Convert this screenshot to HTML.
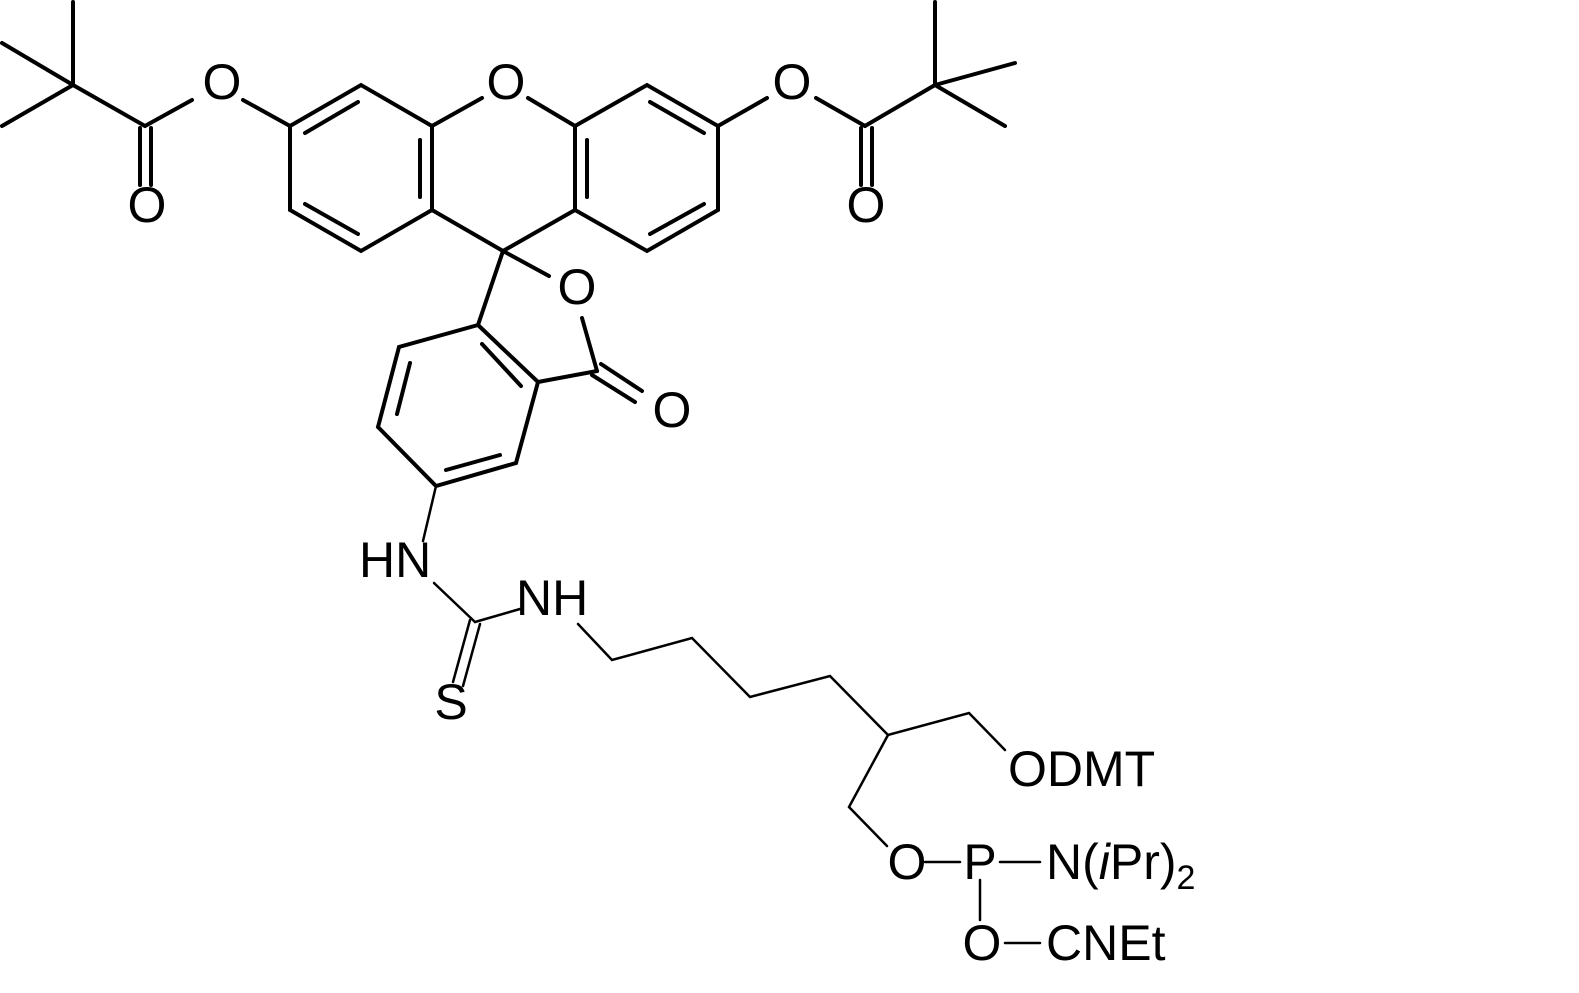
<!DOCTYPE html>
<html><head><meta charset="utf-8"><style>
html,body{margin:0;padding:0;background:#fff;}
svg{display:block;}
text{font-family:"Liberation Sans",Arial,sans-serif;font-size:50px;fill:#000;}
</style></head><body>
<svg width="1579" height="993" viewBox="0 0 1579 993" xmlns="http://www.w3.org/2000/svg">
<g stroke="#000" stroke-width="4" fill="none" stroke-linecap="round">
<line x1="73" y1="2" x2="73" y2="85"/>
<line x1="2" y1="43" x2="73" y2="85"/>
<line x1="2" y1="126" x2="73" y2="85"/>
<line x1="73" y1="85" x2="145" y2="126"/>
<line x1="145" y1="126" x2="192" y2="100"/>
<line x1="140" y1="128" x2="140" y2="185"/>
<line x1="151" y1="128" x2="151" y2="185"/>
<line x1="243" y1="100" x2="290" y2="126"/>
<polyline points="290,126 361,85 432,126 432,210 361,251 290,210 290,126"/>
<line x1="305" y1="133" x2="358" y2="102"/>
<line x1="420" y1="140" x2="420" y2="197"/>
<line x1="305" y1="204" x2="358" y2="234"/>
<line x1="432" y1="126" x2="482" y2="98"/>
<line x1="528" y1="98" x2="575" y2="126"/>
<polyline points="575,126 647,85 718,126 718,210 647,251 575,210 575,126"/>
<line x1="587" y1="140" x2="587" y2="197"/>
<line x1="650" y1="102" x2="704" y2="133"/>
<line x1="650" y1="234" x2="704" y2="204"/>
<line x1="718" y1="126" x2="767" y2="98"/>
<line x1="816" y1="98" x2="865" y2="126"/>
<line x1="865" y1="126" x2="935" y2="85"/>
<line x1="861" y1="128" x2="861" y2="185"/>
<line x1="872" y1="128" x2="872" y2="185"/>
<line x1="935" y1="85" x2="935" y2="2"/>
<line x1="935" y1="85" x2="1015" y2="63"/>
<line x1="935" y1="85" x2="1005" y2="126"/>
<line x1="432" y1="210" x2="503" y2="251"/>
<line x1="575" y1="210" x2="503" y2="251"/>
<line x1="503" y1="251" x2="549" y2="276"/>
<line x1="503" y1="251" x2="478" y2="325"/>
<polyline points="478,325 399,347 378,427 436,486 516,463 538,382 478,325"/>
<line x1="482" y1="344" x2="521" y2="386"/>
<line x1="410" y1="363" x2="397" y2="414"/>
<line x1="446" y1="470" x2="500" y2="455"/>
<line x1="538" y1="382" x2="597" y2="371"/>
<line x1="597" y1="371" x2="582" y2="318"/>
<line x1="592" y1="375" x2="635" y2="402"/>
<line x1="601" y1="364" x2="642" y2="391"/>
</g>
<g stroke="#000" stroke-width="2.5" fill="none" stroke-linecap="round">
<line x1="436" y1="486" x2="423" y2="541"/>
<line x1="434" y1="583" x2="475" y2="622"/>
<line x1="475" y1="622" x2="520" y2="609"/>
<line x1="470" y1="620" x2="453" y2="682"/>
<line x1="480" y1="624" x2="463" y2="686"/>
<polyline points="578,624 612,660 692,638 750,697 830,676 888,735 969,713 1005,750"/>
<polyline points="888,735 849,807 887,846"/>
<line x1="925" y1="862" x2="960" y2="862"/>
<line x1="1000" y1="862" x2="1040" y2="862"/>
<line x1="980" y1="880" x2="980" y2="920"/>
<line x1="1005" y1="943" x2="1040" y2="943"/>
</g>
<text x="147" y="222" text-anchor="middle">O</text>
<text x="222" y="99" text-anchor="middle">O</text>
<text x="506" y="99" text-anchor="middle">O</text>
<text x="792" y="99" text-anchor="middle">O</text>
<text x="866" y="222" text-anchor="middle">O</text>
<text x="577" y="304" text-anchor="middle">O</text>
<text x="672" y="427" text-anchor="middle">O</text>
<text x="359" y="577">HN</text>
<text x="516" y="615">NH</text>
<text x="451" y="719" text-anchor="middle">S</text>
<text x="1008" y="786">ODMT</text>
<text x="907" y="879" text-anchor="middle">O</text>
<text x="980" y="879" text-anchor="middle">P</text>
<text x="1046" y="879">N(<tspan font-style="italic">i</tspan>Pr)<tspan font-size="34" dy="10">2</tspan></text>
<text x="982" y="960" text-anchor="middle">O</text>
<text x="1046" y="960">CNEt</text>
</svg>
</body></html>
